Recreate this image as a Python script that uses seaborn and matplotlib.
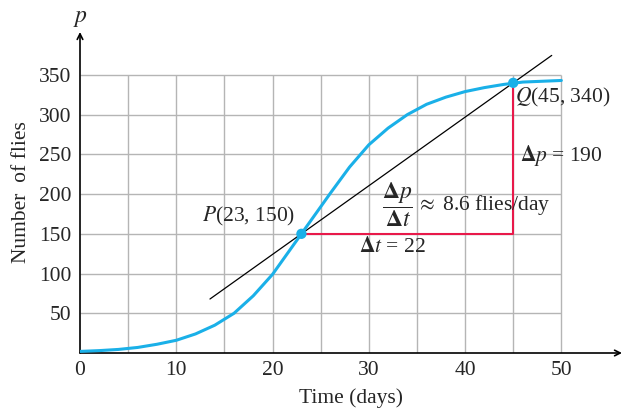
import seaborn as sns
import matplotlib.pyplot as plt
import pandas as pd
import numpy as np

# values
days = [0, 2, 4, 6, 8, 10, 12, 14, 16, 18, 20, 22, 23, 24, 26, 28, 30,
        32, 34, 36, 38, 40, 42, 44, 46, 48, 50]
flies = [2, 3, 4.5, 7, 11, 16, 24, 35, 50, 72, 99, 133, 150, 167, 201, 234, 262,
         283, 300, 313, 322, 329, 334, 338, 341, 342, 343]
pts_t = [23, 45]
pts_p = [150, 340]
secant_t = [13.5, 49]
x_ticks = [0, 10, 20, 30, 40, 50]
y_ticks = [50, 100, 150, 200, 250, 300, 350]

sns.set_style('white')
plt.rcParams['font.family'] = ['Liberation Serif', 'DejaVu Serif']
plt.rcParams['mathtext.fontset'] = 'stix'

curve_col = '#1ab0e8'
red = '#e8194a'

df = pd.DataFrame({'t': days, 'p': flies})
slope = (pts_p[1] - pts_p[0]) / (pts_t[1] - pts_t[0])
sec = pd.DataFrame({'t': secant_t,
                    'p': [pts_p[0] + slope * (t - pts_t[0]) for t in secant_t]})

fig = plt.figure(figsize=(6.26, 4.11), dpi=100)
ax = fig.add_axes([80 / 626, 58 / 411, 542 / 626, 321 / 411])
ax.set_xlim(0, 56.3)
ax.set_ylim(0, 404)

# grid only inside the 0-50 / 0-350 box
ax.vlines(np.arange(5, 51, 5), 0, 350, color='#b5b5b5', lw=1, zorder=1)
ax.hlines(y_ticks, 0, 50, color='#b5b5b5', lw=1, zorder=1)

sns.lineplot(data=sec, x='t', y='p', ax=ax, color='black', lw=0.9, zorder=3)
ax.plot([pts_t[0], pts_t[1], pts_t[1]], [pts_p[0], pts_p[0], pts_p[1]],
        color=red, lw=1.5, zorder=2)
sns.lineplot(data=df, x='t', y='p', ax=ax, color=curve_col, lw=2.2, zorder=4)
sns.scatterplot(x=pts_t, y=pts_p, ax=ax, color=curve_col, s=55,
                edgecolor='none', zorder=5)

for s in ax.spines.values():
    s.set_visible(False)
ax.annotate('', xy=(56.3, 0), xytext=(0, 0), annotation_clip=False,
            arrowprops=dict(arrowstyle='->', lw=1.2, color='black',
                            shrinkA=0, shrinkB=0))
ax.annotate('', xy=(0, 404), xytext=(0, 0), annotation_clip=False,
            arrowprops=dict(arrowstyle='->', lw=1.2, color='black',
                            shrinkA=0, shrinkB=0))

fs = 15.5
ax.set_xticks(x_ticks)
ax.set_yticks(y_ticks)
ax.tick_params(length=0, labelsize=fs, pad=6)
ax.set_xlabel('Time (days)', fontsize=fs, labelpad=6)
ax.set_ylabel('Number  of flies', fontsize=fs, labelpad=6)
ax.text(0, 408, '$p$', fontsize=17, ha='center', va='bottom')

ax.text(22.3, 172, '$P$(23, 150)', fontsize=fs, ha='right', va='center')
ax.text(45.2, 321, '$Q$(45, 340)', fontsize=fs, ha='left', va='center')
ax.text(45.7, 249, r'$\mathbf{\Delta}p$ = 190', fontsize=fs, ha='left', va='center')
ax.text(32.4, 133, r'$\mathbf{\Delta}t$ = 22', fontsize=fs, ha='center', va='center')
ax.text(33.0, 186, r'$\dfrac{\mathbf{\Delta}p}{\mathbf{\Delta}t}$', fontsize=17,
        ha='center', va='center')
ax.text(34.9, 186, r'$\approx$ 8.6 flies/day', fontsize=fs, ha='left', va='center')

fig.savefig('out.png', dpi=100)
